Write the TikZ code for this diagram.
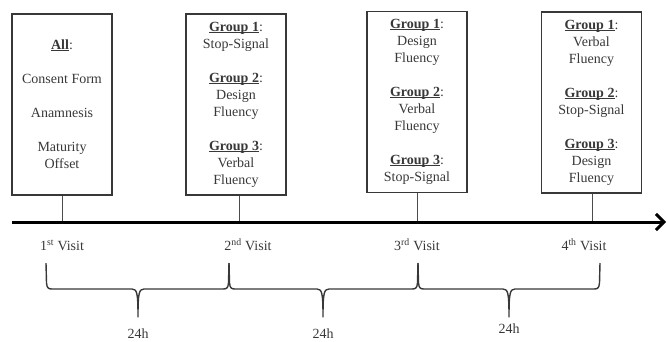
\documentclass[tikz,border=0pt]{standalone}
\usepackage{fontspec}
\setmainfont{Liberation Serif}
\usetikzlibrary{arrows.meta}
\definecolor{txt}{HTML}{383838}
\tikzset{
  x=1pt, y=-1pt,
  visitbox/.style={draw=txt, line width=1.1pt, text=txt, minimum width=100pt, align=center,
    font=\fontsize{14}{17}\selectfont, inner sep=0pt},
  lbl/.style={text=txt, font=\fontsize{14}{17}\selectfont, inner sep=0pt},
  stem/.style={draw=txt!90, line width=1pt},
  axisline/.style={draw=black, line width=3pt, -{Straight Barb[length=8pt,width=16pt,line width=3pt]}},
  bracestyle/.style={draw=txt, line width=1.4pt, line join=round}
}
\newcommand{\myul}[1]{{\setbox0\hbox{#1}\rlap{\rule[-1.6pt]{\wd0}{0.9pt}}\box0}}
\newcommand{\grp}[1]{\myul{\textbf{Group #1}}:}
\newcommand{\bracepath}[3]{%
  \draw[bracestyle] (#1,263) -- (#1+0.5,283) .. controls (#1+1,289) and (#1+3,289) .. (#1+7,289)
    -- (#2-6,289) .. controls (#2-1,289) and (#2,293) .. (#2,317)
    .. controls (#2,293) and (#2+1,289) .. (#2+6,289)
    -- (#3-7,289) .. controls (#3-3,289) and (#3-1,289) .. (#3-0.5,283) -- (#3,263);}
\begin{document}
\begin{tikzpicture}
\useasboundingbox (0,0) rectangle (667,341);
% boxes
\node[visitbox, minimum height=181pt] (b1) at (62,104.5)
  {\myul{\textbf{All}}:\\[17pt] Consent Form\\[17pt] Anamnesis\\[17pt] Maturity\\ Offset};
\node[visitbox, minimum height=181pt] (b2) at (236,104.5)
  {\grp{1}\\ Stop-Signal\\[17pt] \grp{2}\\ Design\\ Fluency\\[17pt] \grp{3}\\ Verbal\\ Fluency};
\node[visitbox, minimum height=181pt] (b3) at (417,102)
  {\grp{1}\\ Design\\ Fluency\\[17pt] \grp{2}\\ Verbal\\ Fluency\\[17pt] \grp{3}\\ Stop-Signal};
\node[visitbox, minimum height=181pt] (b4) at (591.5,102.5)
  {\grp{1}\\ Verbal\\ Fluency\\[17pt] \grp{2}\\ Stop-Signal\\[17pt] \grp{3}\\ Design\\ Fluency};
% axis
\coordinate (axL) at (12,222);
\coordinate (axR) at (666,222);
\coordinate (v1) at (62,222);
\coordinate (v2) at (239,222);
\coordinate (v3) at (417,222);
\coordinate (v4) at (592,222);
\draw[stem] (b1.south -| v1) -- (v1);
\draw[stem] (b2.south -| v2) -- (v2);
\draw[stem] (b3.south -| v3) -- (v3);
\draw[stem] (b4.south -| v4) -- (v4);
\draw[axisline] (axL) -- (axR);
% visit labels
\node[lbl] (l1) at (62,245) {1\textsuperscript{st} Visit};
\node[lbl] (l2) at (248,245) {2\textsuperscript{nd} Visit};
\node[lbl] (l3) at (417,245) {3\textsuperscript{rd} Visit};
\node[lbl] (l4) at (584,245) {4\textsuperscript{th} Visit};
% braces
\bracepath{46}{138}{229}
\bracepath{229}{323}{418}
\bracepath{418}{509}{600}
\node[lbl] (h1) at (138,334) {24h};
\node[lbl] (h2) at (323,334) {24h};
\node[lbl] (h3) at (509,329) {24h};
\end{tikzpicture}
\end{document}
